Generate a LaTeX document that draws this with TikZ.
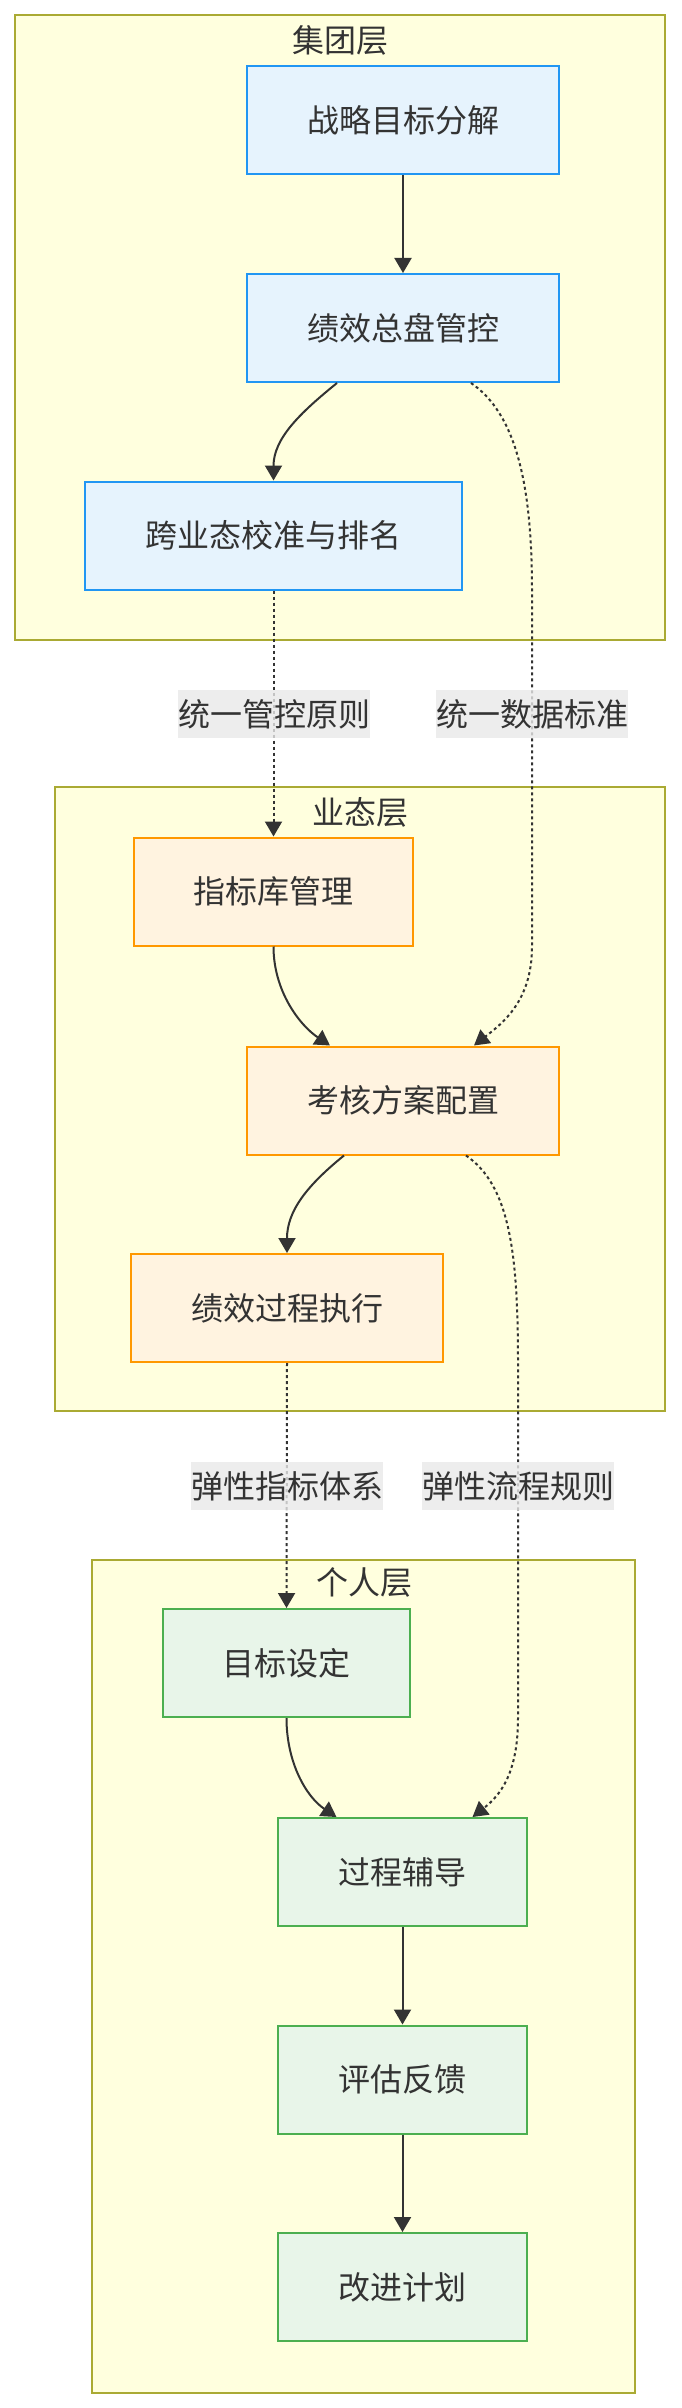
\documentclass[tikz,border=0pt]{standalone}
\usepackage{fontspec}
\setmainfont{Noto Sans CJK SC}
\usepackage{xcolor}
\usetikzlibrary{arrows.meta}
\definecolor{txt}{HTML}{333333}
\definecolor{grpfill}{HTML}{FFFFDE}
\definecolor{grpline}{HTML}{AAAA33}
\definecolor{bluefill}{HTML}{E6F3FD}
\definecolor{blueline}{HTML}{2196F3}
\definecolor{orangefill}{HTML}{FFF3E0}
\definecolor{orangeline}{HTML}{FF9800}
\definecolor{greenfill}{HTML}{E8F5E9}
\definecolor{greenline}{HTML}{4CAF50}
\definecolor{lblfill}{HTML}{E8E8E8}

\begin{document}
\begin{tikzpicture}[
  x=0.5pt, y=-0.5pt,
  every node/.style={inner sep=0pt,text=txt,font=\fontsize{16}{19}\selectfont},
  layer/.style={draw=grpline,fill=grpfill,line width=1pt},
  task/.style={draw,line width=1pt,minimum height=54pt},
  grp/.style={task,fill=bluefill,draw=blueline},
  biz/.style={task,fill=orangefill,draw=orangeline},
  own/.style={task,fill=greenfill,draw=greenline},
  flow/.style={draw=txt,line width=1pt,-{Triangle[length=7.5pt,width=8.5pt]}},
  rule/.style={flow,dash pattern=on 1.5pt off 1.5pt},
  lbl/.style={fill=lblfill,fill opacity=0.8,text opacity=1,minimum height=24pt},
]
\useasboundingbox (0,0) rectangle (681,2408);
% layers
\draw[layer] (15,15) rectangle (665,640);
\node (t1) at (340,40) {集团层};
\draw[layer] (55,787) rectangle (665,1411);
\node (t2) at (360,812) {业态层};
\draw[layer] (92,1560) rectangle (635,2393);
\node (t3) at (364,1582) {个人层};
% label positions
\coordinate (prin) at (274,714);
\coordinate (std) at (532,714);
\coordinate (flex) at (287,1486);
\coordinate (proc) at (518,1486);
% group level
\node[grp,minimum width=156pt] (goal) at (403,120) {战略目标分解};
\node[grp,minimum width=156pt] (ctrl) at (403,328) {绩效总盘管控};
\node[grp,minimum width=188.5pt] (rank) at (273.5,535.5) {跨业态校准与排名};
% business level
\node[biz,minimum width=139.5pt] (lib) at (273.5,891.5) {指标库管理};
\node[biz,minimum width=156pt] (plan) at (403,1100.5) {考核方案配置};
\node[biz,minimum width=156pt] (exec) at (287,1308) {绩效过程执行};
% personal level
\node[own,minimum width=123.5pt] (set) at (286.5,1663) {目标设定};
\node[own,minimum width=124.5pt] (coach) at (402.5,1872) {过程辅导};
\node[own,minimum width=124.5pt] (eval) at (402.5,2079.5) {评估反馈};
\node[own,minimum width=124.5pt] (impr) at (402.5,2287) {改进计划};
% solid flows
\draw[flow] (goal) -- (ctrl);
\draw[flow] ([xshift=-33pt]ctrl.south) .. controls +(-37,30) and +(0,-42) .. (rank.north);
\draw[flow] (lib.south) .. controls +(0,45) and +(-30,-20) .. ([xshift=-36.5pt]plan.north);
\draw[flow] ([xshift=-29.5pt]plan.south) .. controls +(-37,30) and +(0,-42) .. (exec.north);
\draw[flow] (set.south) .. controls +(0,45) and +(-30,-20) .. ([xshift=-33pt]coach.north);
\draw[flow] (coach) -- (eval);
\draw[flow] (eval) -- (impr);
% dashed rules between layers
\draw[rule] (rank.south) -- (lib.north);
\draw[rule] ([xshift=34pt]ctrl.south) .. controls +(44,30) and +(0,-109) .. (std |- rank.south)
  -- (std |- lib.south) .. controls +(0,55) and +(28,-22) .. ([xshift=35.5pt]plan.north);
\draw[rule] (exec.south) -- (set.north);
\draw[rule] ([xshift=31.5pt]plan.south) .. controls +(44,30) and +(0,-109) .. (proc |- exec.south)
  -- (proc |- set.south) .. controls +(0,55) and +(28,-22) .. ([xshift=35pt]coach.north);
% rule labels
\node[lbl] (l1) at (prin) {统一管控原则};
\node[lbl] (l2) at (std) {统一数据标准};
\node[lbl] (l3) at (flex) {弹性指标体系};
\node[lbl] (l4) at (proc) {弹性流程规则};
\end{tikzpicture}
\end{document}
